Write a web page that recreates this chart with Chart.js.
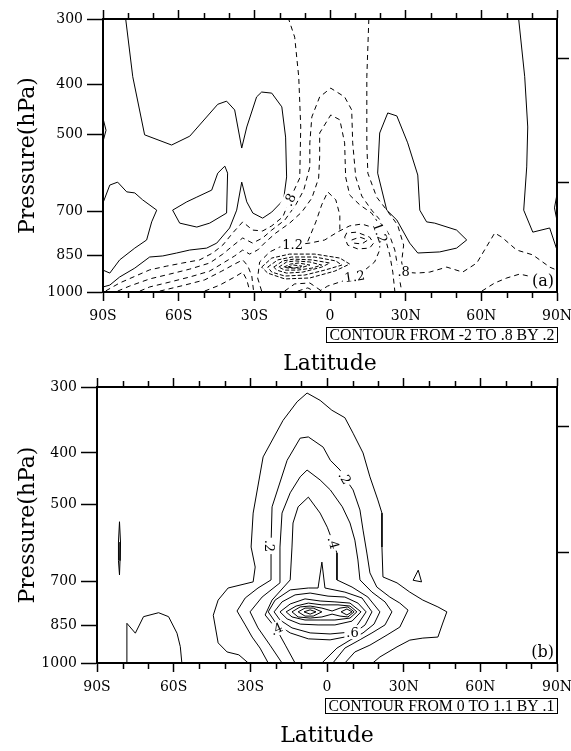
<!DOCTYPE html>
<html>
<head>
<meta charset="utf-8">
<script src="https://cdn.jsdelivr.net/npm/chart.js@4.4.1/dist/chart.umd.min.js"></script>
<style>
html, body { margin: 0; padding: 0; background: #fff; }
#wrapA { position: absolute; left: 0; top: 0; width: 571px; height: 375px; }
#wrapB { position: absolute; left: 0; top: 375px; width: 571px; height: 376px; }
</style>
</head>
<body>
<div id="wrapA"><canvas id="chartA"></canvas></div>
<div id="wrapB"><canvas id="chartB"></canvas></div>
<script>
// Axis ticks
const latTicks = [-90, -60, -30, 0, 30, 60, 90];
const latTickLabels = ['90S', '60S', '30S', '0', '30N', '60N', '90N'];
const latMinorTicks = [-80, -70, -50, -40, -20, -10, 10, 20, 40, 50, 70, 80];
const presTicks = [300, 400, 500, 700, 850, 1000];
const heightTicks = [357, 618]; // unlabelled ticks on the right axis

// Panel (a) contours, points are [latitude, hPa]
// solid lines
const aSolid1 = [[-81.0,300],[-78.2,387],[-73.5,500],[-62.8,523],[-55.6,503],[-44.5,437],[-41.0,431],[-37.8,448],[-35.0,530],[-33.0,483],[-29.1,423],[-27.1,414],[-23.1,416],[-19.1,442],[-17.6,505],[-17.2,602],[-18.4,666],[-23.1,703],[-26.7,722],[-30.6,706],[-33.0,672],[-35.0,616],[-37.0,697],[-39.8,754],[-44.9,806],[-48.9,824],[-55.6,831],[-60.8,842],[-66.3,853],[-71.5,857],[-77.4,900],[-83.4,936],[-87.3,970],[-90,978]];
const aSolid2 = [[-90,675],[-87.3,624],[-84.2,616],[-80.6,643],[-77.4,646],[-74.3,666],[-68.7,697],[-70.7,734],[-72.7,795],[-77.4,824],[-83.4,868],[-87.3,920],[-90,908]];
const aSolid3 = [[-62.4,697],[-59.6,738],[-52.8,751],[-47.7,738],[-41.0,706],[-40.6,592],[-41.7,574],[-44.5,592],[-46.9,638],[-52.8,658],[-56.8,672],[-62.4,697]];
const aSolid4 = [[22.9,454],[26.5,460],[30.8,518],[34.8,597],[35.6,697],[38.3,734],[41.5,738],[50.2,761],[54.2,795],[50.2,824],[43.5,838],[34.8,842],[31.6,806],[26.5,728],[22.5,697],[18.9,592],[19.7,496],[22.9,454]];
const aSolid5 = [[74.8,300],[77.2,387],[78.4,483],[78.0,576],[76.8,697],[80.4,768],[87.1,754],[90,831]];
const aSolid6 = [[-90,465],[-88.8,490],[-90,515]];
const aSolid7 = [[90,650],[89.0,690],[90,730]];

// dashed lines
const aDash1 = [[-88.9,995],[-83.4,961],[-71.5,907],[-64.7,892],[-58.4,880],[-51.7,868],[-46.5,842],[-42.5,813],[-38.6,771],[-34.6,734],[-30.7,761],[-26.7,764],[-23.1,747],[-18.7,718],[-16.0,666],[-12.0,605],[-11.6,483],[-12.4,387],[-14.0,325],[-16.4,300]];
const aDash2 = [[15.4,300],[14.6,387],[14.6,518],[15.0,592],[18.5,658],[22.5,697],[26.8,744],[29.2,813],[28.4,876],[29.2,916],[34.4,920],[39.5,916],[46.3,896],[52.6,916],[58.2,880],[65.3,771],[68.1,785],[74.0,831],[80.4,849],[87.1,896],[89.9,908]];
const aDash3 = [[60.2,996],[65.3,961],[70.1,940],[75.2,924],[80.4,936],[85.2,952],[89.9,936]];
const aDash4 = [[-84.2,996],[-79.4,974],[-71.5,944],[-63.5,924],[-55.6,904],[-47.7,880],[-42.5,846],[-38.6,816],[-34.6,788],[-30.7,806],[-26.7,788],[-23.1,761],[-17.9,728],[-13.6,681],[-10.4,638],[-8.0,576],[-8.0,518],[-7.2,462],[-4.1,423],[0.3,407],[5.8,423],[8.6,448],[9.0,518],[10.2,602],[12.6,655],[16.5,697],[20.5,734],[23.7,781],[25.7,831],[26.5,876],[27.3,928],[28.4,996]];
const aDash5 = [[-75.4,996],[-71.5,978],[-63.5,957],[-55.6,936],[-47.7,912],[-41.7,876],[-37.8,853],[-34.6,831],[-31.9,846],[-28.7,831],[-25.5,802],[-21.5,771],[-16.0,738],[-11.2,703],[-7.2,661],[-4.5,605],[-4.1,551],[-4.1,496],[0.3,458],[3.9,468],[5.8,518],[6.2,602],[7.8,652],[11.8,681],[16.5,706],[19.7,744],[22.1,795],[23.7,849],[24.9,916],[25.7,996]];
const aDash6 = [[-67.5,996],[-57.6,970],[-49.7,948],[-42.9,912],[-37.8,884],[-34.6,868],[-32.6,891],[-31.0,932],[-30.3,996]];
const aDash7 = [[-49.7,996],[-43.7,970],[-37.8,936],[-34.6,916],[-33.0,948],[-31.8,996]];
const aDash8 = [[-27.1,996],[-28.7,940],[-27.9,876],[-23.9,838],[-19.9,820],[-14.8,813],[-8.0,806],[-2.1,795],[3.1,767],[7.8,747],[12.6,741],[17.7,754],[19.7,788],[19.7,831],[17.7,876],[13.8,908],[9.8,936],[3.9,957],[-0.9,974],[-4.1,996]];
const aDash9 = [[5.8,785],[6.6,771],[10.6,768],[15.7,785],[17.3,806],[15.7,824],[11.0,827],[7.0,813],[5.8,785]];
const aDash10 = [[8.6,795],[11.8,785],[15.0,795],[12.6,809],[9.4,806],[8.6,795]];
const aDash11 = [[-8.8,800],[-5.6,734],[-3.3,681],[-0.9,643],[2.3,666],[3.9,712],[3.9,765]];
const aDash12 = [[-18.0,996],[-14.0,965],[-8.0,961],[-3.3,996]];
const aDash13 = [[-12.8,996],[-8.8,982],[-6.4,996]];

// core rings round the maximum near 15S
const aCore1 = [[-27.1,896],[-23.1,861],[-16.0,846],[-6.0,846],[3.9,861],[7.8,884],[1.9,912],[-8.0,940],[-17.9,944],[-24.7,920],[-27.1,896]];
const aCore2 = [[-24.7,896],[-20.7,868],[-15.2,857],[-6.0,857],[2.3,872],[4.7,888],[-2.1,908],[-10.0,928],[-17.9,932],[-23.1,916],[-24.7,896]];
const aCore3 = [[-22.3,896],[-18.7,872],[-14.4,865],[-7.2,868],[-0.1,880],[-3.3,896],[-10.8,916],[-17.2,920],[-21.1,908],[-22.3,896]];
const aCore4 = [[-20.3,896],[-17.2,876],[-13.6,872],[-8.0,876],[-3.3,888],[-7.2,900],[-12.8,908],[-17.9,908],[-20.3,896]];
const aCore5 = [[-18.3,896],[-15.6,884],[-12.4,880],[-8.0,888],[-12.0,900],[-16.4,900],[-18.3,896]];
const aCore6 = [[-16.8,896],[-14.4,888],[-11.2,892],[-14.0,900],[-16.8,896]];

const aLabels = [
  { t: '.8', x: -16.0, y: 666, r: -65 },
  { t: '1.2', x: -14.8, y: 813, r: 0 },
  { t: '1.2', x: 19.9, y: 770, r: 70 },
  { t: '1.2', x: 9.8, y: 934, r: -8 },
  { t: '.8', x: 29.2, y: 914, r: 0 }
];

// Panel (b) contours, all solid
const bLine1 = [[-30.8,1000],[-34.5,965],[-39.1,953],[-42.6,916],[-44.5,812],[-42.6,760],[-38.7,721],[-28.9,702],[-28.1,658],[-29.7,603],[-28.9,520],[-25.0,407],[-17.2,347],[-11.7,320],[-7.8,308],[-2.7,318],[1.9,332],[7.0,343],[10.2,367],[14.1,400],[16.8,444],[19.9,491],[21.5,520],[21.5,603],[21.9,687],[27.4,705],[32.4,734],[37.5,760],[43.4,783],[46.9,800],[45.3,840],[43.4,893],[37.5,897],[32.4,905],[27.4,932],[20.7,974],[17.9,1000]];
const bLine2 = [[-23.0,1000],[-26.2,937],[-29.3,893],[-32.0,847],[-35.2,797],[-32.0,753],[-27.0,721],[-21.9,696],[-21.9,598],[-21.5,506],[-15.6,413],[-10.5,375],[-7.3,373],[-1.5,390],[1.3,413],[5.1,431],[7.0,446],[10.2,470],[12.9,513],[14.1,560],[15.6,619],[16.8,675],[19.5,718],[24.6,750],[28.5,770],[31.7,794],[28.5,855],[23.5,885],[16.8,925],[10.9,953],[7.0,1000]];
const bLine3 = [[-17.6,1000],[-22.3,925],[-27.0,858],[-30.1,800],[-25.4,750],[-18.4,705],[-18.4,603],[-17.6,520],[-14.4,476],[-10.5,444],[-7.8,431],[-2.7,450],[1.3,470],[6.0,506],[9.0,543],[10.9,585],[12.1,638],[12.9,696],[17.6,734],[22.7,766],[25.4,800],[22.7,847],[17.6,877],[12.1,908],[7.0,937],[2.3,1000]];
const bLine4 = [[-12.5,1000],[-16.3,925],[-19.8,862],[-24.2,811],[-21.5,760],[-14.4,696],[-13.7,603],[-13.3,543],[-11.3,506],[-7.3,485],[-2.7,520],[0.1,553],[2.3,590],[3.9,619],[3.9,696],[9.8,718],[16.0,750],[20.7,800],[18.4,844],[14.1,877],[9.0,905],[3.9,937],[-2.0,1000]];
const bLine5 = [[-23.0,800],[-20.3,760],[-14.4,727],[-7.3,721],[-3.5,721],[-2.0,644],[-0.8,721],[7.0,734],[13.7,753],[17.6,800],[14.9,847],[9.0,889],[1.2,904],[-7.3,900],[-14.4,877],[-19.8,843],[-23.0,800]];
const bLine6 = [[-20.7,800],[-17.6,766],[-12.5,743],[-6.6,737],[0.4,747],[7.0,750],[12.1,770],[15.3,800],[12.1,844],[9.0,874],[1.2,881],[-6.6,877],[-13.7,858],[-18.4,829],[-20.7,800]];
const bLine7 = [[-18.4,800],[-14.4,773],[-8.6,756],[-2.7,763],[3.1,766],[9.0,770],[13.3,800],[9.8,833],[3.1,847],[-3.5,847],[-10.5,844],[-15.6,825],[-18.4,800]];
const bLine8 = [[-16.0,800],[-12.1,780],[-7.3,770],[-2.0,776],[4.3,776],[9.0,780],[11.7,800],[9.0,822],[3.1,829],[-2.7,829],[-8.6,829],[-13.7,818],[-16.0,800]];
const bLine9 = [[-13.7,800],[-10.5,783],[-6.6,780],[-2.0,787],[2.0,797],[5.1,787],[8.2,783],[10.6,800],[8.2,818],[5.1,815],[2.0,808],[-2.0,818],[-6.6,822],[-11.3,818],[-13.7,800]];
const bLine10 = [[-11.3,800],[-8.6,787],[-5.4,787],[-2.0,800],[-5.4,815],[-8.6,815],[-11.3,800]];
const bLine11 = [[5.5,800],[7.8,790],[9.8,800],[7.8,811],[5.5,800]];
const bLine12 = [[-9.0,800],[-6.6,793],[-4.3,800],[-6.6,808],[-9.0,800]];
const bLens = [[-81.2,540],[-80.8,590],[-81.0,640],[-81.2,681],[-81.6,640],[-81.6,590],[-81.2,540]];
const bBump = [[-78.3,1000],[-78.3,841],[-75.0,878],[-71.8,817],[-65.9,803],[-62.0,817],[-58.7,878],[-57.4,931],[-56.8,1000]];
const bTri = [[33.7,697],[35.7,667],[37.0,702],[33.7,697]];

const bLabels = [
  { t: '.2', x: -22.4, y: 600, r: 90 },
  { t: '.2', x: 7.0, y: 446, r: 60 },
  { t: '.4', x: 2.5, y: 592, r: 75 },
  { t: '.4', x: -19.8, y: 862, r: -25 },
  { t: '.6', x: 10.0, y: 874, r: 0 }
];

const serif = '"DejaVu Serif", "Liberation Serif", serif';
const boxSerif = '"Liberation Serif", "DejaVu Serif", serif';

function contourSet(points, dash) {
    return {
        data: points.map(p => ({ x: p[0], y: p[1] })),
        showLine: true,
        borderColor: '#000',
        borderWidth: 1,
        borderDash: dash || [],
        pointRadius: 0,
        tension: 0,
        fill: false
    };
}

// Labels, minor ticks, panel tag and the contour info box
const decorPlugin = {
    id: 'decor',
    afterDatasetsDraw(chart, args, opts) {
        const { ctx, scales } = chart;
        ctx.save();
        ctx.font = '13px ' + serif;
        ctx.textAlign = 'center';
        ctx.textBaseline = 'middle';
        opts.labels.forEach(l => {
            const px = scales.x.getPixelForValue(l.x);
            const py = scales.y.getPixelForValue(l.y);
            ctx.save();
            ctx.translate(px, py);
            ctx.rotate(l.r * Math.PI / 180);
            const w = ctx.measureText(l.t).width;
            ctx.fillStyle = '#fff';
            ctx.fillRect(-w / 2 - 2, -7, w + 4, 14);
            ctx.fillStyle = '#000';
            ctx.fillText(l.t, 0, 1);
            ctx.restore();
        });
        ctx.restore();
    },
    afterDraw(chart, args, opts) {
        const { ctx, chartArea, scales } = chart;
        ctx.save();
        ctx.strokeStyle = '#000';
        ctx.lineWidth = 1.5;
        latMinorTicks.forEach(v => {
            const px = Math.round(scales.x.getPixelForValue(v)) + 0.5;
            ctx.beginPath();
            ctx.moveTo(px, chartArea.bottom);
            ctx.lineTo(px, chartArea.bottom + 6);
            ctx.moveTo(px, chartArea.top);
            ctx.lineTo(px, chartArea.top - 6);
            ctx.stroke();
        });

        // panel tag
        ctx.font = '16px ' + serif;
        ctx.textAlign = 'center';
        ctx.textBaseline = 'middle';
        const tw = ctx.measureText(opts.tag).width;
        const tx = chartArea.right - tw / 2 - 3;
        const ty = chartArea.bottom - 10;
        ctx.fillStyle = '#fff';
        ctx.fillRect(tx - tw / 2 - 1, ty - 9, tw + 2, 17);
        ctx.fillStyle = '#000';
        ctx.fillText(opts.tag, tx, ty);

        // info box under the plot, text sized to the box width
        ctx.font = '13px ' + boxSerif;
        const fs = 13 * opts.infoWidth / ctx.measureText(opts.info).width;
        ctx.font = fs.toFixed(2) + 'px ' + boxSerif;
        const iw = ctx.measureText(opts.info).width;
        const bx = Math.round(chartArea.right - iw - 6) + 0.5;
        const by = chartArea.bottom + opts.infoOffset + 0.5;
        ctx.fillStyle = '#fff';
        ctx.fillRect(bx, by, iw + 6, 15);
        ctx.lineWidth = 1;
        ctx.strokeRect(bx, by, Math.round(iw + 6), 15);
        ctx.fillStyle = '#000';
        ctx.textAlign = 'left';
        ctx.fillText(opts.info, bx + 3, by + 8);
        ctx.restore();
    }
};

function makeOptions(p) {
    return {
        responsive: true,
        maintainAspectRatio: false,
        devicePixelRatio: 1,
        animation: false,
        events: [],
        layout: { padding: 0, autoPadding: false },
        plugins: {
            legend: { display: false },
            tooltip: { enabled: false },
            decor: { labels: p.labels, tag: p.tag, info: p.info, infoOffset: 35, infoWidth: p.infoWidth }
        },
        scales: {
            x: {
                type: 'linear',
                position: 'bottom',
                min: -90,
                max: 90,
                afterBuildTicks: s => { s.ticks = latTicks.map(v => ({ value: v })); },
                afterFit: s => { s.height = p.bottomH; s.paddingLeft = 0; s.paddingRight = 0; },
                ticks: {
                    autoSkip: false,
                    maxRotation: 0,
                    padding: 7,
                    color: '#000',
                    font: { family: serif, size: 14 },
                    callback: v => latTickLabels[latTicks.indexOf(v)]
                },
                grid: { drawOnChartArea: false, tickLength: 9, tickColor: '#000', tickWidth: 1.5 },
                border: { color: '#000', width: 2 },
                title: {
                    display: true,
                    text: 'Latitude',
                    color: '#000',
                    font: { family: serif, size: 22, lineHeight: 1 },
                    padding: { top: 0, bottom: p.titlePad }
                }
            },
            x2: {
                type: 'linear',
                position: 'top',
                min: -90,
                max: 90,
                afterBuildTicks: s => { s.ticks = latTicks.map(v => ({ value: v })); },
                afterFit: s => { s.height = p.topH; s.paddingLeft = 0; s.paddingRight = 0; },
                ticks: { display: false },
                grid: { drawOnChartArea: false, tickLength: 9, tickColor: '#000', tickWidth: 1.5 },
                border: { color: '#000', width: 2 }
            },
            y: {
                type: 'logarithmic',
                position: 'left',
                min: 300,
                max: 1000,
                reverse: true,
                afterBuildTicks: s => { s.ticks = presTicks.map(v => ({ value: v })); },
                afterFit: s => { s.width = p.leftW; s.paddingTop = 0; s.paddingBottom = 0; },
                ticks: {
                    autoSkip: false,
                    padding: 4,
                    color: '#000',
                    font: { family: serif, size: 14 },
                    callback: v => String(v)
                },
                grid: { drawOnChartArea: false, tickLength: 16, tickColor: '#000', tickWidth: 1.5 },
                border: { color: '#000', width: 2 },
                title: {
                    display: true,
                    text: 'Pressure(hPa)',
                    color: '#000',
                    font: { family: serif, size: 22, lineHeight: 1 },
                    padding: { top: 17, bottom: 0 }
                }
            },
            y2: {
                type: 'logarithmic',
                position: 'right',
                min: 300,
                max: 1000,
                reverse: true,
                afterBuildTicks: s => { s.ticks = heightTicks.map(v => ({ value: v })); },
                afterFit: s => { s.width = 571 - 557; s.paddingTop = 0; s.paddingBottom = 0; },
                ticks: { display: false },
                grid: { drawOnChartArea: false, tickLength: 12, tickColor: '#000', tickWidth: 1.5 },
                border: { color: '#000', width: 2 }
            }
        }
    };
}

const aSolidLines = [aSolid1, aSolid2, aSolid3, aSolid4, aSolid5, aSolid6, aSolid7];
const aDashedLines = [aDash1, aDash2, aDash3, aDash4, aDash5, aDash6, aDash7, aDash8, aDash9, aDash10, aDash11, aDash12, aDash13];
const aCoreLines = [aCore1, aCore2, aCore3, aCore4, aCore5, aCore6];

new Chart(document.getElementById('chartA'), {
    type: 'scatter',
    data: {
        datasets: [
            ...aSolidLines.map(l => contourSet(l)),
            ...aDashedLines.map(l => contourSet(l, [5, 4])),
            ...aCoreLines.map(l => contourSet(l, [4, 2]))
        ]
    },
    options: makeOptions({
        leftW: 103, topH: 19, bottomH: 375 - 292, titlePad: 0,
        labels: aLabels, tag: '(a)', info: 'CONTOUR FROM -2 TO .8 BY .2', infoWidth: 225
    }),
    plugins: [decorPlugin]
});

const bLines = [bLine1, bLine2, bLine3, bLine4, bLine5, bLine6, bLine7, bLine8, bLine9, bLine10, bLine11, bLine12, bLens, bBump, bTri];

new Chart(document.getElementById('chartB'), {
    type: 'scatter',
    data: { datasets: bLines.map(l => contourSet(l)) },
    options: makeOptions({
        leftW: 97, topH: 12, bottomH: 376 - 288, titlePad: 4,
        labels: bLabels, tag: '(b)', info: 'CONTOUR FROM 0 TO 1.1 BY .1', infoWidth: 226
    }),
    plugins: [decorPlugin]
});
</script>
</body>
</html>
